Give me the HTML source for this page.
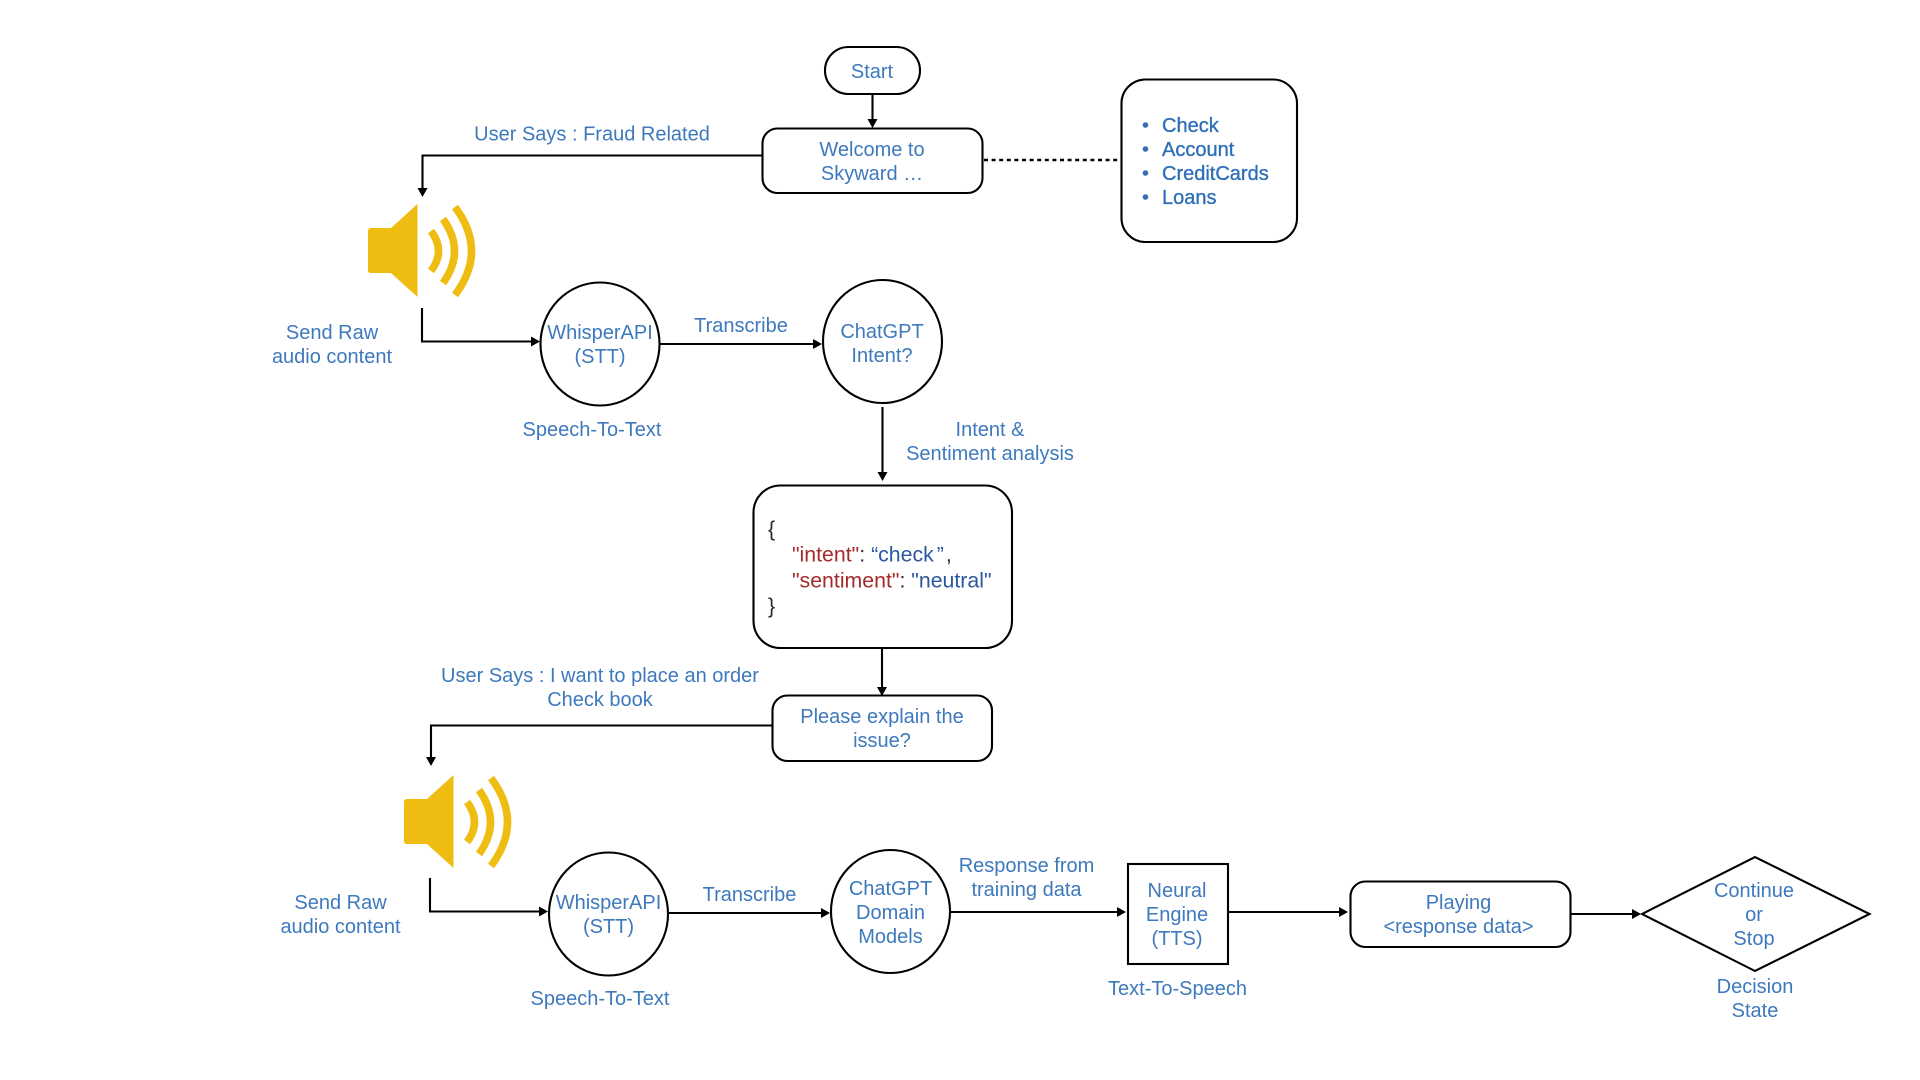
<!DOCTYPE html>
<html><head><meta charset="utf-8"><style>
html,body{margin:0;padding:0;background:#fff;width:1920px;height:1080px;overflow:hidden}
svg{display:block}
text{font-family:"Liberation Sans",sans-serif;font-size:20px;fill:#3d79bc;text-anchor:middle}
.s{fill:none;stroke:#000;stroke-width:2.1}
.l{fill:none;stroke:#000;stroke-width:2.1}
.h{fill:#000;stroke:none}
.a{fill:none;stroke:#efbc12;stroke-width:7.5}
.y{fill:#efbc12;stroke:none}
.j{font-size:21.3px;text-anchor:start;fill:#2a2a2a}
.r{fill:#a52a2a}.b{fill:#2a57a0}
.m{text-anchor:start;fill:#2f6fb8;stroke:#2f6fb8;stroke-width:.35}
</style></head><body>
<svg width="1920" height="1080" viewBox="0 0 1920 1080" xmlns="http://www.w3.org/2000/svg">
<defs>
<g id="spk">
<path class="y" d="M371 228H391L417.5 204V297L391 273H371Q368 273 368 270V231Q368 228 371 228Z"/>
<path class="a" d="M431 231Q446 251 431 271"/>
<path class="a" d="M443 219Q466 251 443 283"/>
<path class="a" d="M455 207Q488 251 455 295"/>
</g>
</defs>

<!-- shapes -->
<rect class="s" x="825" y="47" width="95" height="47" rx="23.5"/>
<rect class="s" x="762.5" y="128.5" width="220" height="64.5" rx="15"/>
<rect class="s" x="1121.5" y="79.5" width="175.5" height="162.5" rx="24"/>
<rect class="s" x="753.5" y="485.5" width="258.5" height="162.5" rx="27"/>
<rect class="s" x="772.5" y="695.5" width="219.5" height="65.5" rx="15"/>
<rect class="s" x="1128" y="864" width="100" height="100"/>
<rect class="s" x="1350.5" y="881.5" width="220" height="65.5" rx="15"/>
<ellipse class="s" cx="600" cy="344" rx="59.5" ry="61.5"/>
<ellipse class="s" cx="882.5" cy="341.5" rx="59.5" ry="61.5"/>
<ellipse class="s" cx="608.5" cy="914" rx="59.5" ry="61.5"/>
<ellipse class="s" cx="890.5" cy="911.5" rx="59.5" ry="61.5"/>
<polygon class="s" points="1642,914 1755,857 1869.5,914 1755,971"/>

<!-- speakers -->
<use href="#spk"/>
<use href="#spk" x="36" y="571"/>

<!-- connectors -->
<path class="l" d="M872.5 94V121"/><polygon class="h" points="867.5,119 877.5,119 872.5,128"/>
<path class="l" d="M763 155.5H422.5V190"/><polygon class="h" points="417.5,188 427.5,188 422.5,197"/>
<path style="fill:none;stroke:#000;stroke-width:2.4" stroke-dasharray="4 3.6" d="M984 160H1121"/>
<path class="l" d="M422 308V341.5M421 341.5H532"/><polygon class="h" points="531,336.5 531,346.5 540,341.5"/>
<path class="l" d="M660 344H814"/><polygon class="h" points="813,339 813,349 822,344"/>
<path class="l" d="M882.5 407V473"/><polygon class="h" points="877.5,472 887.5,472 882.5,481"/>
<path class="l" d="M882 648V688"/><polygon class="h" points="877,687 887,687 882,696"/>
<path class="l" d="M773 725.5H431V759"/><polygon class="h" points="426,757 436,757 431,766"/>
<path class="l" d="M430 878V911.5M429 911.5H540"/><polygon class="h" points="539,906.5 539,916.5 548,911.5"/>
<path class="l" d="M668 913H822"/><polygon class="h" points="821,908 821,918 830,913"/>
<path class="l" d="M951 912H1118"/><polygon class="h" points="1117,907 1117,917 1126,912"/>
<path class="l" d="M1228 912H1340"/><polygon class="h" points="1339,907 1339,917 1348,912"/>
<path class="l" d="M1570 914H1633"/><polygon class="h" points="1632,909 1632,919 1641,914"/>

<!-- labels -->
<text x="872" y="78">Start</text>
<text x="592" y="140.5">User Says : Fraud Related</text>
<text x="872" y="156">Welcome to</text>
<text x="872" y="180">Skyward …</text>
<text x="332" y="339">Send Raw</text>
<text x="332" y="363">audio content</text>
<text x="600" y="339">WhisperAPI</text>
<text x="600" y="363">(STT)</text>
<text x="741" y="332">Transcribe</text>
<text x="882" y="338">ChatGPT</text>
<text x="882" y="362">Intent?</text>
<text x="592" y="436">Speech-To-Text</text>
<text x="990" y="436">Intent &amp;</text>
<text x="990" y="460">Sentiment analysis</text>
<text x="600" y="682">User Says : I want to place an order</text>
<text x="600" y="706">Check book</text>
<text x="882" y="723">Please explain the</text>
<text x="882" y="747">issue?</text>
<text x="340.5" y="909">Send Raw</text>
<text x="340.5" y="933">audio content</text>
<text x="608.5" y="909">WhisperAPI</text>
<text x="608.5" y="933">(STT)</text>
<text x="749.5" y="901">Transcribe</text>
<text x="890.5" y="895">ChatGPT</text>
<text x="890.5" y="919">Domain</text>
<text x="890.5" y="943">Models</text>
<text x="1026.5" y="872">Response from</text>
<text x="1026.5" y="896">training data</text>
<text x="600" y="1005">Speech-To-Text</text>
<text x="1177" y="897">Neural</text>
<text x="1177" y="921">Engine</text>
<text x="1177" y="945">(TTS)</text>
<text x="1177.5" y="995">Text-To-Speech</text>
<text x="1458.5" y="909">Playing</text>
<text x="1458.5" y="933">&lt;response data&gt;</text>
<text x="1754" y="897">Continue</text>
<text x="1754" y="921">or</text>
<text x="1754" y="945">Stop</text>
<text x="1755" y="993">Decision</text>
<text x="1755" y="1017">State</text>

<!-- list -->
<circle cx="1145.5" cy="125" r="2.8" fill="#2f6fb8"/>
<circle cx="1145.5" cy="149" r="2.8" fill="#2f6fb8"/>
<circle cx="1145.5" cy="173" r="2.8" fill="#2f6fb8"/>
<circle cx="1145.5" cy="197" r="2.8" fill="#2f6fb8"/>
<text class="m" x="1162" y="132">Check</text>
<text class="m" x="1162" y="156">Account</text>
<text class="m" x="1162" y="180">CreditCards</text>
<text class="m" x="1162" y="204">Loans</text>

<!-- json -->
<text class="j" x="768" y="536">{</text>
<text class="j" x="792" y="561.5"><tspan class="r">"intent"</tspan>: <tspan class="b">“check</tspan><tspan class="b" dx="3">”</tspan><tspan dx="2">,</tspan></text>
<text class="j" x="792" y="587.5"><tspan class="r">"sentiment"</tspan>: <tspan class="b">"neutral"</tspan></text>
<text class="j" x="768" y="613">}</text>
</svg>
</body></html>
